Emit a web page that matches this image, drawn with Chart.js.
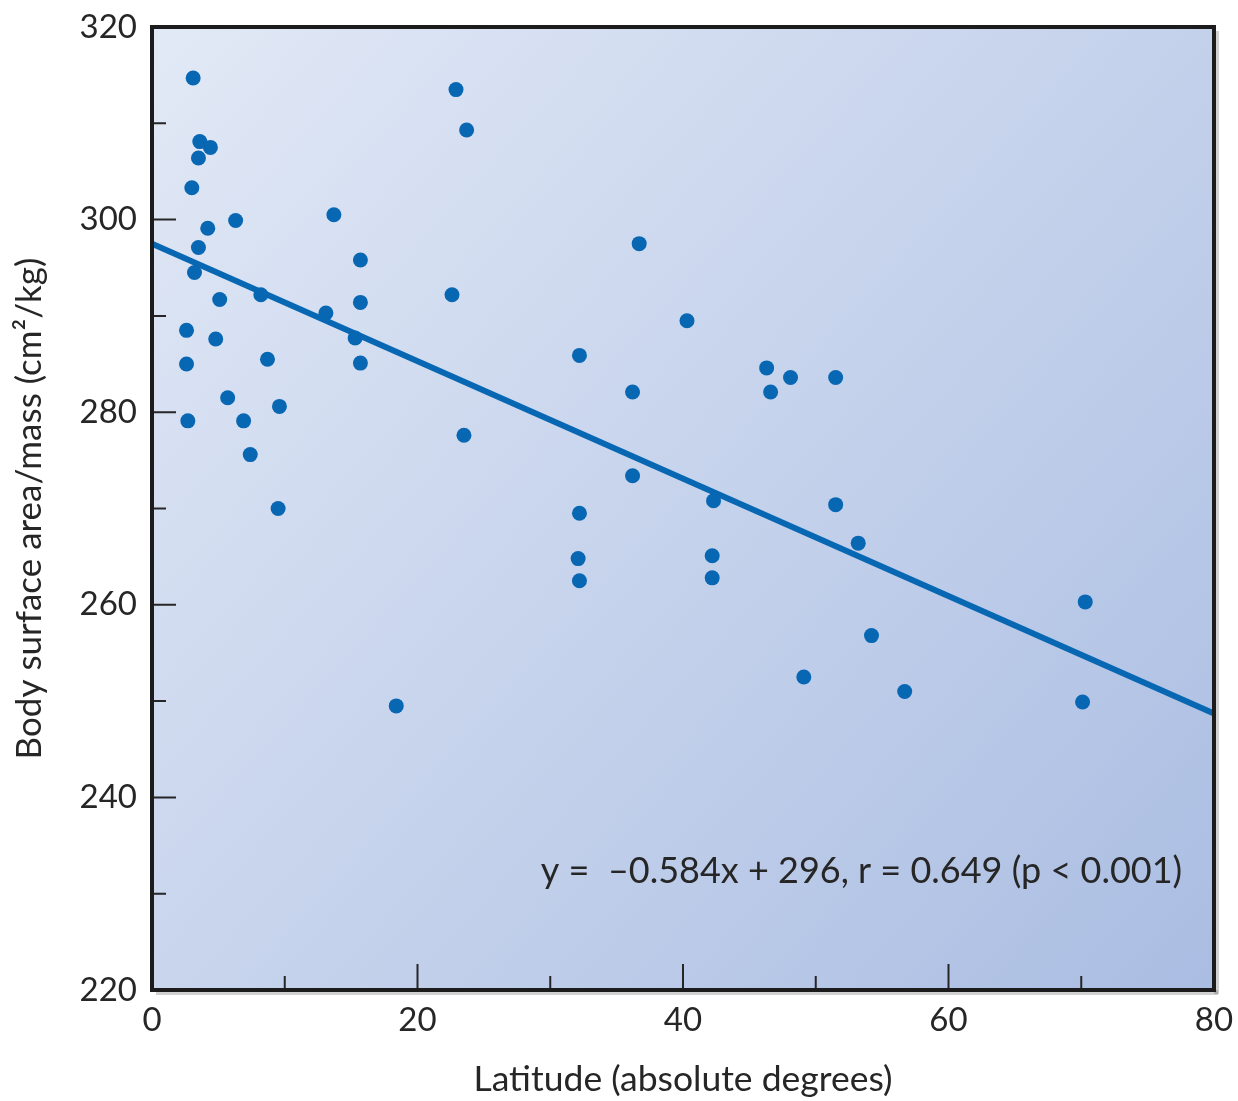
<!DOCTYPE html>
<html>
<head>
<meta charset="utf-8">
<script src="https://cdn.jsdelivr.net/npm/chart.js@4.4.1/dist/chart.umd.min.js"></script>
<style>
  html, body { margin: 0; padding: 0; background: #ffffff; }
  #wrap { width: 1238px; height: 1101px; }
</style>
</head>
<body>
<div id="wrap"><canvas id="c" width="1238" height="1101"></canvas></div>
<script>
// ---- data ----
const latitude = [3.1, 3.6, 4.4, 3.5, 3.0, 4.2, 6.3, 3.5, 3.2, 5.1, 8.2, 2.6, 4.8, 2.6, 8.7, 5.7, 6.9, 2.7, 9.6, 7.4, 9.5,
  13.7, 13.1, 15.7, 15.7, 15.3, 15.7, 18.4, 22.9, 23.7, 22.6, 23.5,
  32.2, 32.2, 32.1, 32.2, 36.7, 36.2, 36.2, 40.3, 42.3, 42.2, 42.2,
  46.3, 46.6, 48.1, 51.5, 51.5, 53.2, 54.2, 49.1, 56.7, 70.3, 70.1];
const surfaceMass = [314.7, 308.1, 307.5, 306.4, 303.3, 299.1, 299.9, 297.1, 294.5, 291.7, 292.2, 288.5, 287.6, 285.0, 285.5, 281.5, 279.1, 279.1, 280.6, 275.6, 270.0,
  300.5, 290.3, 295.8, 291.4, 287.7, 285.1, 249.5, 313.5, 309.3, 292.2, 277.6,
  285.9, 269.5, 264.8, 262.5, 297.5, 282.1, 273.4, 289.5, 270.8, 265.1, 262.8,
  284.6, 282.1, 283.6, 283.6, 270.4, 266.4, 256.8, 252.5, 251.0, 260.3, 249.9];
const trendX = [0, 80];
const trendY = [297.5, 248.7];
const xTickValues = [0, 20, 40, 60, 80];
const yTickValues = [220, 240, 260, 280, 300, 320];
const xMinorTicks = [10, 30, 50, 70];
const yMinorTicks = [230, 250, 270, 290, 310];
const xTitle = 'Latitude (absolute degrees)';
const yTitle = 'Body surface area/mass (cm\u00B2/kg)';
const annotation = 'y =  \u20130.584x + 296, r = 0.649 (p < 0.001)';

const BLUE = '#0867b2';
const INK = '#262626';
const FONT = 'Lato, "Open Sans", sans-serif';

const points = latitude.map((x, i) => ({ x: x, y: surfaceMass[i] }));
const trend = trendX.map((x, i) => ({ x: x, y: trendY[i] }));

const framePlugin = {
  id: 'frame',
  beforeDatasetsDraw(chart) {
    const { ctx, chartArea: a } = chart;
    ctx.save();
    ctx.fillStyle = 'rgba(0,0,0,0.18)';
    ctx.fillRect(a.left + 4, a.bottom, a.right - a.left, 5);
    ctx.fillRect(a.right, a.top + 4, 5, a.bottom - a.top);
    const g = ctx.createLinearGradient(a.left, a.top, a.right, a.bottom);
    g.addColorStop(0, '#e2e9f6');
    g.addColorStop(1, '#aabde2');
    ctx.fillStyle = g;
    ctx.fillRect(a.left, a.top, a.right - a.left, a.bottom - a.top);
    ctx.restore();
  },
  afterDatasetsDraw(chart) {
    const { ctx, chartArea: a, scales } = chart;
    const xs = scales.x, ys = scales.y;
    ctx.save();
    ctx.strokeStyle = INK;
    ctx.lineWidth = 2;
    ctx.beginPath();
    xTickValues.forEach(v => { const p = xs.getPixelForValue(v); ctx.moveTo(p, a.bottom); ctx.lineTo(p, a.bottom - 26); });
    xMinorTicks.forEach(v => { const p = xs.getPixelForValue(v); ctx.moveTo(p, a.bottom); ctx.lineTo(p, a.bottom - 14); });
    yTickValues.forEach(v => { const p = ys.getPixelForValue(v); ctx.moveTo(a.left, p); ctx.lineTo(a.left + 24, p); });
    yMinorTicks.forEach(v => { const p = ys.getPixelForValue(v); ctx.moveTo(a.left, p); ctx.lineTo(a.left + 14, p); });
    ctx.stroke();
    ctx.lineWidth = 4;
    ctx.strokeStyle = '#1c1c1c';
    ctx.strokeRect(a.left, a.top, a.right - a.left, a.bottom - a.top);
    ctx.fillStyle = INK;
    ctx.font = '36px ' + FONT;
    ctx.textAlign = 'right';
    ctx.textBaseline = 'middle';
    ctx.fillText(annotation, xs.getPixelForValue(77.6), ys.getPixelForValue(232.3));
    ctx.restore();
  }
};

new Chart(document.getElementById('c'), {
  type: 'scatter',
  data: {
    datasets: [
      { type: 'line', data: trend, borderColor: BLUE, borderWidth: 6, pointRadius: 0, fill: false, order: 2 },
      { data: points, backgroundColor: BLUE, borderWidth: 0, pointRadius: 7.5, pointHoverRadius: 7.5, order: 1 }
    ]
  },
  options: {
    responsive: false,
    animation: false,
    events: [],
    layout: { padding: { top: 27, right: 24, left: 0, bottom: 0 } },
    plugins: { legend: { display: false }, tooltip: { enabled: false } },
    scales: {
      x: {
        type: 'linear', min: 0, max: 80,
        afterBuildTicks(s) { s.ticks = xTickValues.map(v => ({ value: v })); },
        afterFit(s) { s.height = 111; s.paddingLeft = 0; s.paddingRight = 0; },
        grid: { display: false, drawTicks: false },
        border: { display: false },
        ticks: { color: INK, font: { family: FONT, size: 33 }, padding: 11, maxRotation: 0 },
        title: { display: true, text: xTitle, color: INK, font: { family: FONT, size: 35.5 }, padding: { top: 0, bottom: 0 } }
      },
      y: {
        type: 'linear', min: 220, max: 320,
        afterBuildTicks(s) { s.ticks = yTickValues.map(v => ({ value: v })); },
        afterFit(s) { s.width = 152; s.paddingTop = 0; s.paddingBottom = 0; },
        grid: { display: false, drawTicks: false },
        border: { display: false },
        ticks: { color: INK, font: { family: FONT, size: 33 }, padding: 15 },
        title: { display: true, text: yTitle, color: INK, font: { family: FONT, size: 35 }, padding: { top: 9, bottom: 0 } }
      }
    }
  },
  plugins: [framePlugin]
});
</script>
</body>
</html>
